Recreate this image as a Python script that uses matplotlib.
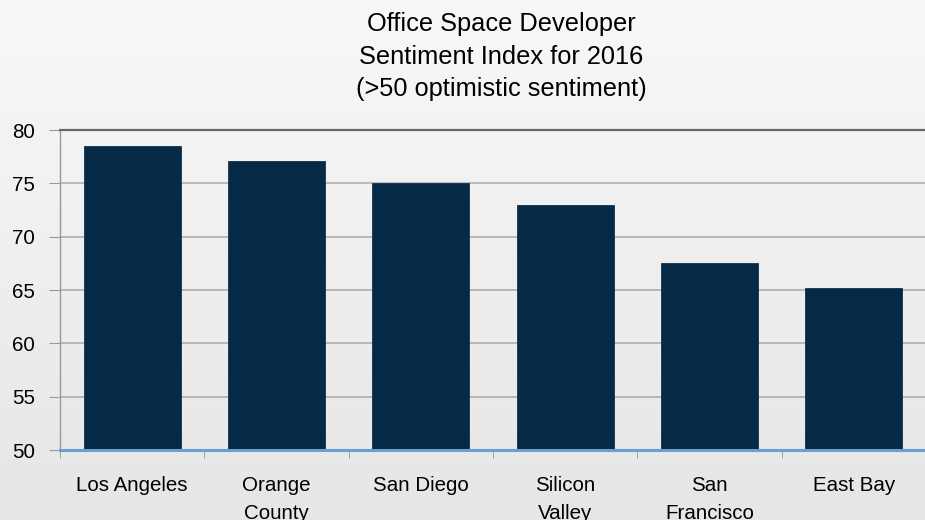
import numpy as np
import matplotlib.pyplot as plt

plt.rcParams['font.family'] = ['Liberation Sans', 'DejaVu Sans']

# datos
ciudades = ['Los Angeles', 'Orange\nCounty', 'San Diego', 'Silicon\nValley', 'San\nFrancisco', 'East Bay']
indice = [78.5, 77.1, 75.0, 73.0, 67.5, 65.2]
ticks_y = [50, 55, 60, 65, 70, 75, 80]

fig = plt.figure(figsize=(9.25, 5.2), dpi=100)

# fondo con degradado gris claro
fondo = fig.add_axes([0, 0, 1, 1], zorder=-10)
grad = np.linspace(0, 1, 256).reshape(-1, 1)
fondo.imshow(grad, aspect='auto', cmap=plt.matplotlib.colors.LinearSegmentedColormap.from_list(
    'g', ['#f8f8f8', '#e6e6e6']), extent=[0, 1, 0, 1])
fondo.axis('off')

ax = fig.add_axes([60 / 925, 70 / 520, 866 / 925, 320 / 520])
ax.patch.set_alpha(0)

x = np.arange(len(ciudades))
ax.bar(x, indice, width=0.67, color='#062945', edgecolor='#0d3352', linewidth=0.6, zorder=3)

ax.set_xlim(-0.5, len(ciudades) - 0.5)
ax.set_ylim(50, 80)
ax.set_yticks(ticks_y)
ax.yaxis.grid(True, color='#a8a8a8', linewidth=1.1, zorder=0)

ax.set_xticks(x)
ax.set_xticklabels(ciudades, fontsize=14.8, va='top', linespacing=1.6)
ax.set_xticks(np.arange(len(ciudades) + 1) - 0.5, minor=True)
ax.tick_params(axis='x', which='major', length=0, pad=19)
ax.tick_params(axis='x', which='minor', length=6, color='#999999', direction='out')
ax.tick_params(axis='y', labelsize=14.8, length=8, color='#999999', pad=10)

ax.spines['right'].set_visible(False)
ax.spines['top'].set_color('#666666')
ax.spines['top'].set_linewidth(1.6)
ax.spines['left'].set_color('#999999')
ax.spines['left'].set_linewidth(1.0)
ax.spines['bottom'].set_color('#6b9fd0')
ax.spines['bottom'].set_linewidth(2.2)
ax.spines['bottom'].set_zorder(5)

fig.text(501 / 925, 0.976, 'Office Space Developer\nSentiment Index for 2016\n(>50 optimistic sentiment)',
         ha='center', va='top', fontsize=18.3, linespacing=1.43)

fig.savefig('out.png', dpi=100)
